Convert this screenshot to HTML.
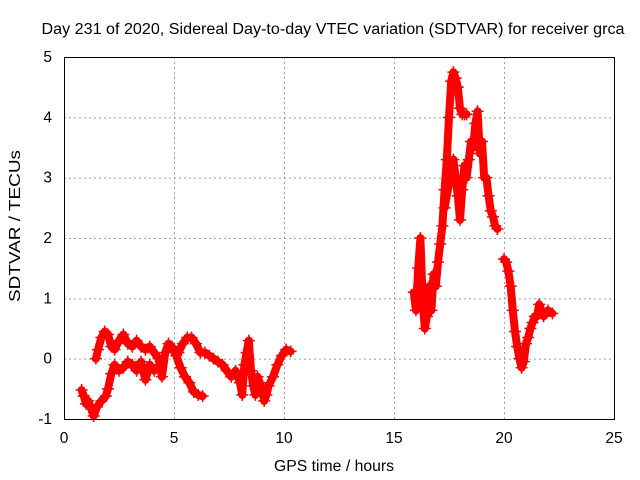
<!DOCTYPE html>
<html><head><meta charset="utf-8"><style>
body{margin:0;background:#fff;}
svg{display:block;font-family:"Liberation Sans",sans-serif;font-size:15.5px;}
</style></head><body>
<svg id="chart" width="640" height="480">
<text x="333" y="34" text-anchor="middle" textLength="583" lengthAdjust="spacingAndGlyphs">Day 231 of 2020, Sidereal Day-to-day VTEC variation (SDTVAR) for receiver grca</text>
<g id="grid"></g>
<g id="ticks"></g>
<g id="marks"></g>
<rect x="64.5" y="57.5" width="550" height="362" fill="none" stroke="#000"/>
<text x="334" y="471" text-anchor="middle" textLength="120" lengthAdjust="spacingAndGlyphs">GPS time / hours</text>
<text transform="translate(20,226) rotate(-90)" text-anchor="middle" textLength="152" lengthAdjust="spacingAndGlyphs">SDTVAR / TECUs</text>
</svg>
<script>
const xTicks=[0,5,10,15,20,25];
const yTicks=[-1,0,1,2,3,4,5];
const tA=[0.8,0.9,1.0,1.1,1.2,1.35,1.5,1.7,1.9,2.0,2.15,2.3,2.5,2.7,2.9,3.1,3.3,3.5,3.7,3.9,4.1];
const vA=[-0.52,-0.62,-0.75,-0.7,-0.8,-0.95,-0.8,-0.7,-0.62,-0.5,-0.25,-0.1,-0.2,-0.15,-0.05,-0.1,-0.2,-0.05,-0.35,-0.1,-0.2];
const tB=[1.45,1.55,1.7,1.85,2.0,2.15,2.3,2.5,2.7,2.9,3.1,3.3,3.5,3.7,3.9,4.1,4.3,4.45,4.6,4.75,4.9,5.1,5.3,5.5,5.7,5.9,6.1,6.3];
const vB=[0.0,0.15,0.35,0.45,0.4,0.2,0.15,0.3,0.4,0.25,0.2,0.3,0.2,0.15,0.2,0.1,0.0,-0.3,0.1,0.25,0.2,0.05,-0.15,-0.3,-0.4,-0.55,-0.6,-0.62];
const tC=[5.0,5.2,5.4,5.6,5.8,6.0,6.2,6.4,6.6,6.8,7.0,7.2,7.4,7.6,7.8,8.0,8.1,8.2,8.3,8.4,8.5,8.6,8.7,8.8,8.9,9.0,9.1,9.2,9.3,9.5,9.7,9.9,10.1,10.3];
const vC=[0.15,0.1,0.25,0.35,0.35,0.25,0.1,0.1,0.05,0.0,-0.05,-0.1,-0.2,-0.3,-0.2,-0.4,-0.6,-0.1,0.1,0.3,-0.2,-0.45,-0.6,-0.3,-0.4,-0.5,-0.7,-0.6,-0.45,-0.3,-0.1,0.05,0.15,0.12];
const tD=[15.9,16.0,16.1,16.2,16.3,16.4,16.5,16.6,16.7,16.8,16.9,17.0,17.1,17.2,17.3,17.4,17.5,17.6,17.7,17.8,17.9,18.0,18.1,18.2,18.3];
const vD=[1.1,0.8,1.5,2.0,1.0,0.5,0.7,1.2,0.8,1.4,1.2,1.6,1.9,2.2,2.8,3.3,4.0,4.6,4.75,4.65,4.5,4.15,4.05,4.05,4.05];
const tE=[17.3,17.5,17.6,17.7,17.8,17.9,18.0,18.1,18.2,18.3,18.4,18.5,18.6,18.7,18.8,18.9,19.0,19.1,19.2,19.3,19.4,19.5,19.6,19.7];
const vE=[2.5,2.9,3.1,3.3,3.0,2.7,2.3,2.8,3.2,3.0,3.3,3.6,3.5,3.9,4.1,3.4,3.6,3.0,3.0,2.7,2.45,2.35,2.2,2.15];
const tF=[20.0,20.1,20.2,20.3,20.4,20.5,20.6,20.7,20.8,20.9,21.0,21.1,21.2,21.3,21.4,21.5,21.6,21.7,21.8,22.0,22.2];
const vF=[1.65,1.6,1.45,1.2,0.8,0.45,0.2,0.0,-0.15,-0.05,0.25,0.35,0.5,0.6,0.7,0.7,0.9,0.8,0.7,0.8,0.75];
const NS='http://www.w3.org/2000/svg';
const X0=64,X1=614,Y0=419,Y1=57;
function sx(t){return X0+(t-0)/(25-0)*(X1-X0);}
function sy(v){return Y0-(v-(-1))/(5-(-1))*(Y0-Y1);}
function mk(tag,attrs,parent){const e=document.createElementNS(NS,tag);for(const k in attrs)e.setAttribute(k,attrs[k]);parent.appendChild(e);return e;}
const grid=document.getElementById('grid'),ticks=document.getElementById('ticks'),marks=document.getElementById('marks');
xTicks.forEach(t=>{
  const x=sx(t)+0.5;
  if(t>0&&t<25){const g=mk('line',{x1:x,x2:x,y1:Y1,y2:Y0,stroke:'#a0a0a0','stroke-dasharray':'2,3'},grid);
  
  }
  const l=mk('text',{x:sx(t),y:443,'text-anchor':'middle'},ticks);l.textContent=t;
  
  
});
yTicks.forEach(v=>{
  const y=sy(v)+0.5;
  if(v>-1&&v<5){const g=mk('line',{x1:X0,x2:X1,y1:y,y2:y,stroke:'#a0a0a0','stroke-dasharray':'2,3'},grid);
  
  }
  const l=mk('text',{x:52,y:sy(v)+5,'text-anchor':'end'},ticks);l.textContent=v;
  
  
});
function track(ts,vs,name){
  const g=mk('g',{},marks);
  
  
  const pts=ts.map((t,i)=>sx(t).toFixed(1)+','+sy(vs[i]).toFixed(1)).join(' ');
  mk('polyline',{points:pts,fill:'none',stroke:'#ff0000','stroke-width':8,'stroke-linejoin':'round','stroke-linecap':'round'},g);
  ts.forEach((t,i)=>{
    const x=sx(t),y=sy(vs[i]);
    const p=mk('path',{d:`M${x-6},${y}H${x+6}M${x},${y-6}V${y+6}`,stroke:'#ff0000','stroke-width':1.5},g);
    
    
  });
}
track(tA,vA,'track-a');track(tB,vB,'track-b');track(tC,vC,'track-c');
track(tD,vD,'track-d');track(tE,vE,'track-e');track(tF,vF,'track-f');
</script>
</body></html>
